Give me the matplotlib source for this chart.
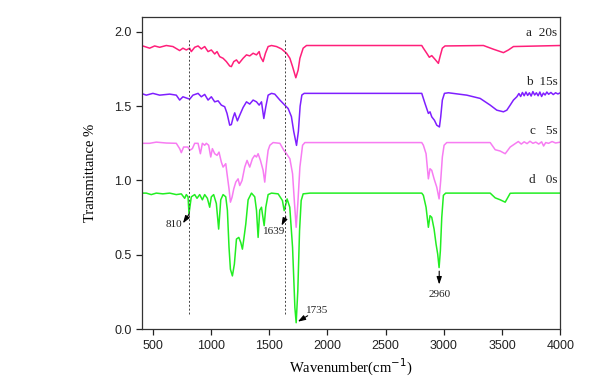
import matplotlib
matplotlib.use("Agg")
import matplotlib.pyplot as plt

# ---- data (wavenumber cm^-1, transmittance) ----
d_w = [400, 443, 486, 529, 586, 644, 701, 744, 773, 787, 802, 810, 822, 830, 859, 879, 902, 925, 945,
       968, 988, 1002, 1022, 1045, 1065, 1083, 1103, 1126, 1140, 1154, 1166, 1183, 1200, 1218, 1238,
       1255, 1269, 1283, 1298, 1318, 1347, 1375, 1390, 1404, 1418, 1433, 1441, 1456, 1470, 1490, 1519,
       1576, 1613, 1628, 1639, 1653, 1676, 1700, 1720, 1731, 1745, 1760, 1774, 1791, 1850, 2500, 2810,
       2824, 2847, 2867, 2881, 2896, 2916, 2933, 2947, 2959, 2970, 2982, 2996, 3016, 3398, 3441, 3484,
       3527, 3570, 3613, 4000]
d_t = [0.915, 0.915, 0.905, 0.915, 0.91, 0.915, 0.905, 0.91, 0.88, 0.905, 0.89, 0.775, 0.845, 0.89,
       0.905, 0.88, 0.905, 0.87, 0.905, 0.88, 0.82, 0.89, 0.905, 0.845, 0.673, 0.87, 0.905, 0.89, 0.80,
       0.55, 0.403, 0.358, 0.437, 0.606, 0.617, 0.583, 0.538, 0.617, 0.707, 0.87, 0.915, 0.89, 0.80,
       0.617, 0.80, 0.82, 0.775, 0.696, 0.82, 0.905, 0.915, 0.91, 0.865, 0.797, 0.831, 0.876, 0.82,
       0.55, 0.144, 0.043, 0.257, 0.662, 0.865, 0.91, 0.915, 0.915, 0.915, 0.90, 0.82, 0.685, 0.763,
       0.752, 0.673, 0.572, 0.505, 0.414, 0.527, 0.752, 0.90, 0.915, 0.915, 0.883, 0.87, 0.854, 0.914,
       0.915, 0.915]

c_w = [400, 472, 529, 615, 701, 730, 744, 764, 801, 816, 839, 859, 888, 908, 925, 945, 959, 979, 997,
       1011, 1031, 1051, 1068, 1088, 1103, 1126, 1137, 1154, 1166, 1180, 1195, 1212, 1232, 1246, 1266,
       1289, 1309, 1332, 1355, 1375, 1390, 1404, 1424, 1447, 1461, 1476, 1490, 1505, 1533, 1591, 1625,
       1648, 1677, 1700, 1717, 1731, 1745, 1763, 1786, 1806, 2810, 2824, 2847, 2867, 2881, 2896, 2916,
       2939, 2959, 2973, 2987, 3002, 3025, 3398, 3441, 3484, 3527, 3570, 3613, 3640, 3665, 3690, 3715,
       3740, 3765, 3790, 3815, 3840, 3857, 3875, 3900, 3930, 3960, 4000]
c_t = [1.25, 1.25, 1.258, 1.252, 1.25, 1.214, 1.187, 1.225, 1.225, 1.203, 1.214, 1.25, 1.25, 1.18,
       1.25, 1.237, 1.25, 1.237, 1.158, 1.214, 1.18, 1.169, 1.191, 1.124, 1.09, 1.113, 1.045, 0.944,
       0.854, 0.887, 0.944, 0.989, 1.011, 0.966, 1.0, 1.09, 1.135, 1.09, 1.146, 1.169, 1.158, 1.18,
       1.135, 1.068, 0.989, 1.113, 1.203, 1.237, 1.255, 1.25, 1.203, 1.18, 1.146, 1.045, 0.842, 0.685,
       0.842, 1.09, 1.237, 1.255, 1.255, 1.237, 1.18, 1.011, 1.079, 1.068, 1.011, 0.955, 0.876, 1.0,
       1.158, 1.237, 1.255, 1.255, 1.207, 1.198, 1.18, 1.225, 1.248, 1.262, 1.245, 1.26, 1.248, 1.264,
       1.25, 1.258, 1.245, 1.26, 1.232, 1.255, 1.25, 1.262, 1.252, 1.258]

b_w = [400, 443, 500, 558, 644, 701, 730, 758, 816, 844, 888, 916, 945, 974, 1002, 1031, 1060, 1088,
       1117, 1137, 1160, 1174, 1189, 1203, 1226, 1246, 1275, 1304, 1332, 1361, 1390, 1413, 1433, 1453,
       1470, 1490, 1519, 1547, 1591, 1633, 1662, 1690, 1710, 1734, 1750, 1765, 1780, 1800, 2810, 2838,
       2867, 2881, 2896, 2919, 2939, 2962, 2973, 2987, 3005, 3039, 3197, 3312, 3398, 3455, 3512, 3541,
       3570, 3598, 3627, 3645, 3660, 3675, 3690, 3705, 3720, 3735, 3750, 3765, 3780, 3795, 3810, 3825,
       3840, 3855, 3870, 3885, 3900, 3920, 3940, 3960, 3980, 4000]
b_t = [1.586, 1.574, 1.586, 1.574, 1.581, 1.574, 1.541, 1.563, 1.547, 1.574, 1.586, 1.563, 1.579,
       1.541, 1.563, 1.529, 1.536, 1.507, 1.496, 1.451, 1.372, 1.376, 1.423, 1.455, 1.401, 1.439, 1.491,
       1.529, 1.514, 1.541, 1.529, 1.507, 1.529, 1.417, 1.496, 1.574, 1.586, 1.581, 1.541, 1.507, 1.484,
       1.43, 1.33, 1.236, 1.33, 1.50, 1.575, 1.586, 1.586, 1.518, 1.451, 1.462, 1.428, 1.405, 1.372,
       1.36, 1.428, 1.541, 1.586, 1.59, 1.574, 1.552, 1.507, 1.473, 1.462, 1.473, 1.507, 1.541, 1.563,
       1.585, 1.565, 1.592, 1.57, 1.595, 1.572, 1.59, 1.568, 1.598, 1.575, 1.59, 1.57, 1.595, 1.565,
       1.588, 1.575, 1.595, 1.58, 1.592, 1.578, 1.59, 1.582, 1.59]

a_w = [400, 429, 472, 515, 558, 615, 672, 730, 758, 787, 816, 830, 859, 888, 916, 945, 974, 1002,
       1031, 1051, 1074, 1103, 1131, 1160, 1174, 1195, 1218, 1240, 1275, 1304, 1332, 1361, 1390, 1413,
       1424, 1447, 1467, 1490, 1519, 1562, 1605, 1648, 1677, 1700, 1728, 1748, 1763, 1791, 1820, 2810,
       2824, 2853, 2875, 2896, 2924, 2953, 2967, 2987, 3010, 3340, 3426, 3512, 3555, 3598, 4000]
a_t = [1.908, 1.901, 1.89, 1.905, 1.896, 1.908, 1.901, 1.874, 1.89, 1.878, 1.89, 1.867, 1.896, 1.905,
       1.885, 1.901, 1.867, 1.878, 1.851, 1.867, 1.833, 1.822, 1.80, 1.77, 1.766, 1.80, 1.811, 1.788,
       1.822, 1.845, 1.838, 1.856, 1.845, 1.867, 1.833, 1.80, 1.856, 1.901, 1.908, 1.901, 1.885, 1.856,
       1.822, 1.766, 1.691, 1.743, 1.822, 1.89, 1.908, 1.908, 1.89, 1.856, 1.829, 1.84, 1.815, 1.788,
       1.833, 1.89, 1.905, 1.908, 1.883, 1.86, 1.878, 1.901, 1.908]

series_labels = ["a  20s", "b  15s", "c   5s", "d   0s"]
label_y = [1.99, 1.665, 1.335, 1.0]
colors = ["#ff1f7a", "#7f1fff", "#f77cf2", "#22ee22"]

x_ticks = [500, 1000, 1500, 2000, 2500, 3000, 3500, 4000]
y_ticks = [0.0, 0.5, 1.0, 1.5, 2.0]
marker_lines = [810, 1639]

# ---- figure ----
fig = plt.figure(figsize=(5.96, 3.77), dpi=100)
ax = fig.add_axes([0.238, 0.127, 0.702, 0.828])

for w, t, c in zip([a_w, b_w, c_w, d_w], [a_t, b_t, c_t, d_t], colors):
    ax.plot(w, t, color=c, lw=1.1, solid_joinstyle="round")

for xv in marker_lines:
    ax.plot([xv, xv], [0.105, 1.96], color="#444444", lw=0.7, ls=(0, (2, 2)))

serif = "Liberation Serif"
for lab, yv in zip(series_labels, label_y):
    ax.text(3975, yv, lab, ha="right", va="center", fontsize=9.5, family=serif, color="#222222")

arrow_kw = dict(arrowstyle="-|>,head_length=0.45,head_width=0.15", color="black", lw=0.8,
                shrinkA=0, shrinkB=0)
# 810
ax.annotate("", xy=(758, 0.712), xytext=(812, 0.775), arrowprops=arrow_kw)
ax.text(680, 0.706, "810", ha="center", va="center", fontsize=8, family=serif, color="#222222")
# 1639
ax.annotate("", xy=(1605, 0.696), xytext=(1642, 0.755), arrowprops=arrow_kw)
ax.text(1545, 0.655, "1639", ha="center", va="center", fontsize=8, family=serif, color="#222222")
# 1735
ax.annotate("", xy=(1745, 0.05), xytext=(1830, 0.09), arrowprops=arrow_kw)
ax.text(1910, 0.128, "1735", ha="center", va="center", fontsize=8, family=serif, color="#222222")
# 2960
ax.annotate("", xy=(2960, 0.30), xytext=(2960, 0.39), arrowprops=arrow_kw)
ax.text(2960, 0.232, "2960", ha="center", va="center", fontsize=8, family=serif, color="#222222")

ax.set_xlim(405, 4000)
ax.set_ylim(0.0, 2.1)
ax.set_xticks(x_ticks)
ax.set_yticks(y_ticks)
ax.set_xticklabels([str(v) for v in x_ticks], family="Liberation Sans", fontsize=9)
ax.set_yticklabels([f"{v:.1f}" for v in y_ticks], family="Liberation Sans", fontsize=9)
ax.tick_params(direction="out", length=4, width=0.9, top=False, right=False, colors="#222222")
for s in ax.spines.values():
    s.set_linewidth(0.9)
    s.set_color("#333333")

ax.set_xlabel("Wavenumber(cm$^{-1}$)", family=serif, fontsize=10.5, labelpad=4)
ax.set_ylabel("Transmittance %", family=serif, fontsize=10.5, labelpad=12)

fig.savefig("out.png", dpi=100)
